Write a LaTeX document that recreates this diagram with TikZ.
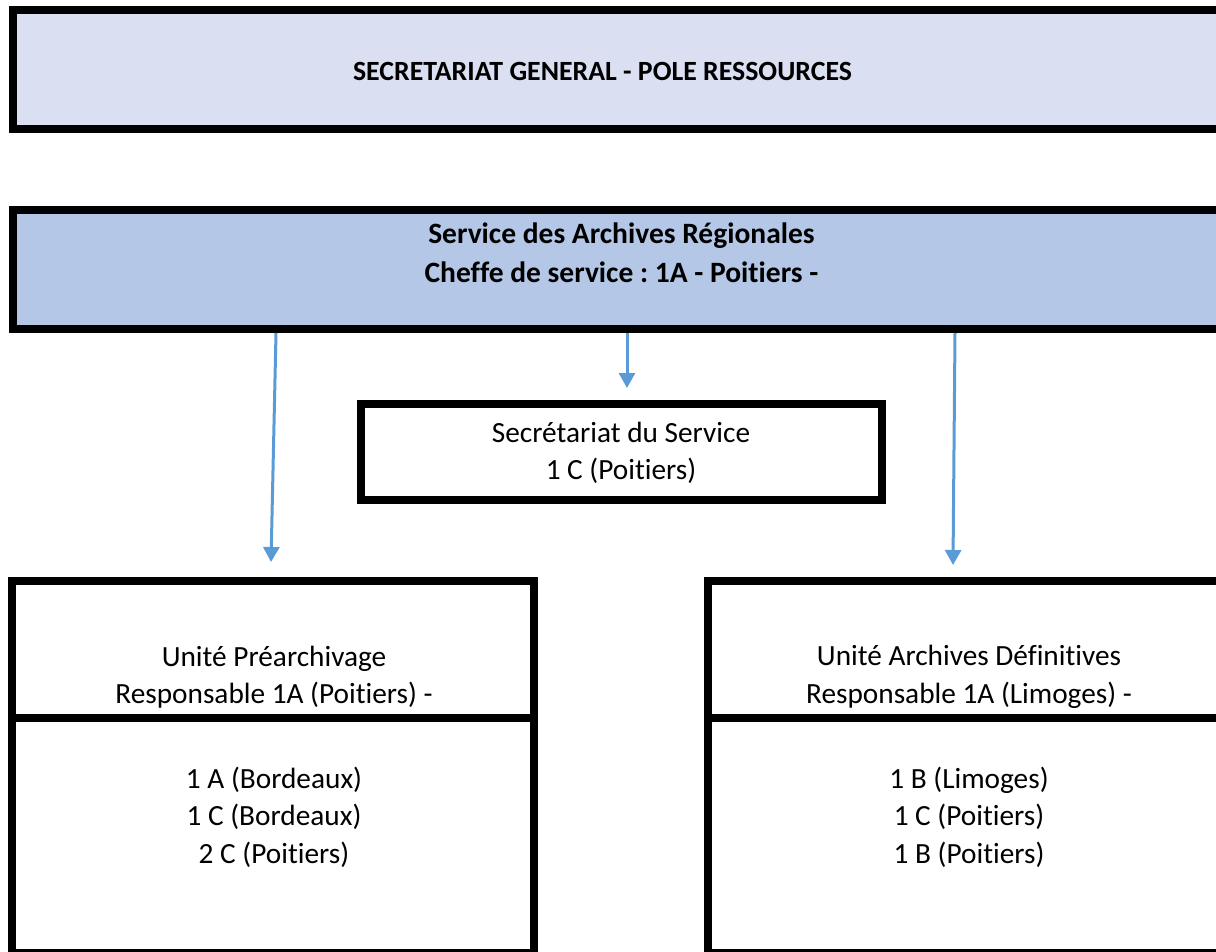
\documentclass[tikz,border=0pt]{standalone}
\usepackage{fontspec}
\setmainfont{Carlito}[Ligatures={NoCommon}]
\frenchspacing
\usetikzlibrary{arrows.meta}
\definecolor{paleblue}{HTML}{DAE0F2}
\definecolor{midblue}{HTML}{B4C7E7}
\definecolor{arrblue}{HTML}{5B9BD5}
\tikzset{
  box/.style={draw=black, line width=8pt, rectangle, inner sep=0pt, outer sep=0pt},
  txt/.style={align=center, inner sep=0pt, font=\fontsize{29.3}{37.5}\selectfont},
  btxt/.style={align=center, inner sep=0pt, font=\fontsize{29.5}{39}\selectfont\bfseries},
  ttxt/.style={align=center, inner sep=0pt, font=\fontsize{27.8}{36}\selectfont\bfseries},
  arr/.style={draw=arrblue, line width=3pt, -{Triangle[width=16pt,length=15pt]}}
}
\begin{document}
\begin{tikzpicture}[x=1pt,y=-1pt]
\useasboundingbox (0,0) rectangle (1216,952);
\clip (0,0) rectangle (1216,952);
% top box
\node[box, fill=paleblue, minimum width=1217pt, minimum height=119pt] (sg) at (621.5,69.5) {};
\node[ttxt] (sgt) at (602.5,71) {SECRETARIAT GENERAL - POLE RESSOURCES};
% service box
\node[box, fill=midblue, minimum width=1217pt, minimum height=119pt] (srv) at (621.5,269.5) {};
\node[btxt] (srvt) at (621.5,253) {Service des Archives Régionales\\Cheffe de service : 1A - Poitiers -};
% secretariat box
\node[box, minimum width=521pt, minimum height=96pt] (sec) at (621.5,452) {};
\node[txt] (sect) at (621,453) {Secrétariat du Service\\1 C (Poitiers)};
% left unit
\node[box, minimum width=522pt, minimum height=372pt] (pre) at (273,767) {};
\draw[line width=8pt] (8,718) -- (538,718);
\node[txt] (pret) at (274,677) {Unité Préarchivage\\Responsable 1A (Poitiers) -};
\node[txt] (prel) at (274,817) {1 A (Bordeaux)\\1 C (Bordeaux)\\2 C (Poitiers)};
% right unit
\node[box, minimum width=522pt, minimum height=372pt] (def) at (969,767) {};
\draw[line width=8pt] (704,718) -- (1230,718);
\node[txt] (deft) at (969,677) {Unité Archives Définitives\\Responsable 1A (Limoges) -};
\node[txt] (defl) at (969,817) {1 B (Limoges)\\1 C (Poitiers)\\1 B (Poitiers)};
% arrows
\coordinate (s1) at (276,333);
\coordinate (t1) at (271,562);
\coordinate (s2) at (627,333);
\coordinate (t2) at (627,388);
\coordinate (s3) at (955,333);
\coordinate (t3) at (953,565);
\draw[arr] (s1) -- (t1);
\draw[arr] (s2) -- (t2);
\draw[arr] (s3) -- (t3);
\end{tikzpicture}
\end{document}
